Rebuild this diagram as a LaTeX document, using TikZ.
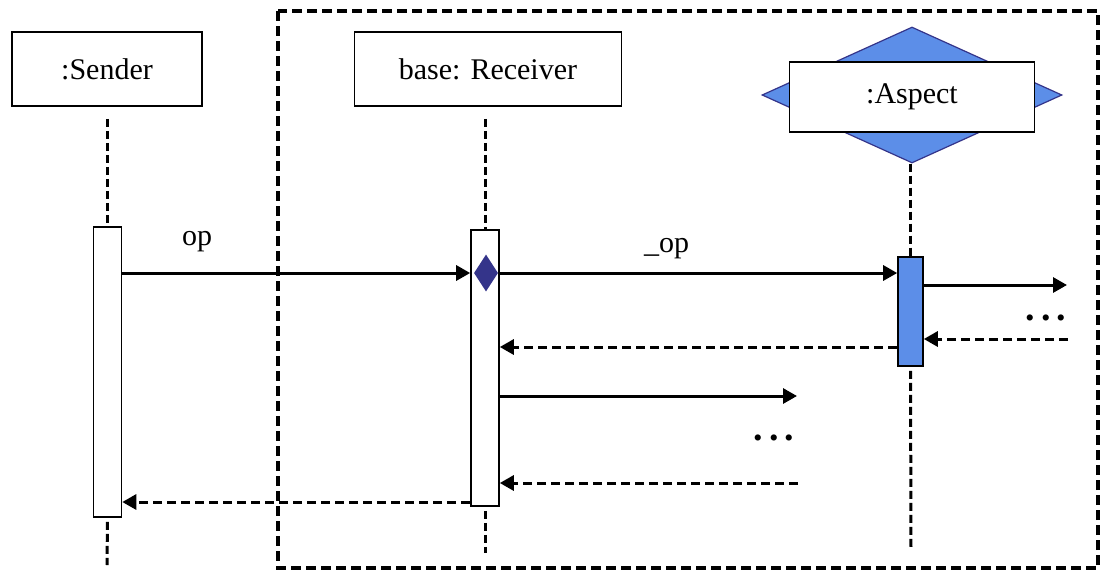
\documentclass[tikz,border=0pt]{standalone}
\usepackage{fontspec}
\setmainfont{Liberation Serif}
\usepackage{xcolor}
\usetikzlibrary{shapes.geometric, arrows.meta, positioning, calc}
\definecolor{aspectblue}{RGB}{92,142,232}
\definecolor{joinnavy}{RGB}{52,52,138}

\begin{document}
\begin{tikzpicture}[
    x=1pt, y=-1pt,
    font=\fontsize{30}{36}\selectfont,
    >={Triangle[length=14pt,width=15pt]},
    obj/.style={rectangle, draw, line width=1.6pt, fill=white, minimum width=#1, minimum height=74pt, inner sep=0pt},
    bar/.style={rectangle, draw, line width=1.6pt, fill=#1, minimum width=28pt, inner sep=0pt},
    life/.style={line width=3pt, dash pattern=on 8pt off 4pt},
    msg/.style={->, line width=3pt},
    ret/.style={->, line width=3pt, dash pattern=on 9pt off 5pt},
    dots/.style={font=\fontsize{38}{38}\selectfont\bfseries, inner sep=0pt},
]
    \useasboundingbox (0,0) rectangle (1101,574);

    % Frame round the woven part
    \draw[line width=3.5pt, dash pattern=on 10pt off 5pt] (278,11) rectangle (1098,568);

    % Objects
    \node[obj=190pt] (sender) at (107,69) {:Sender};
    \node[obj=267pt] (receiver) at (488,69) {base: Receiver};
    \node[diamond, draw=joinnavy, line width=1.2pt, fill=aspectblue, minimum width=300pt, minimum height=136pt, inner sep=0pt] (aspectdia) at (912,95) {};
    \node[obj=245pt, minimum height=70pt] (aspect) at (912,97) {:Aspect};

    % Activations
    \node[bar=white, minimum height=290pt] (sbar) at (107.5,372) {};
    \node[bar=white, minimum height=276pt] (rbar) at (485,368) {};
    \node[bar=aspectblue, minimum width=25pt, minimum height=109pt] (abar) at (910.5,311.5) {};

    % Lifelines
    \coordinate (send) at (107,565);
    \coordinate (rend) at (485,553);
    \coordinate (aend) at (911,550);
    \draw[life, shorten <=12pt] (sender.south -| sbar.north) -- (sbar.north);
    \draw[life, shorten <=12pt] (receiver.south -| rbar.north) -- (rbar.north);
    \draw[life] (aspectdia.south -| abar.north) -- (abar.north);
    \draw[life, shorten <=4pt] (sbar.south) -- (send);
    \draw[life, shorten <=4pt] (rbar.south) -- (rend);
    \draw[life, shorten <=4pt] (abar.south) -- (aend);

    % Messages
    \coordinate (call) at (486,273);
    \draw[msg] (sbar.east |- call) -- node[pos=0.215, above=18pt, inner sep=2pt] {op} (rbar.west |- call);
    \draw[msg] (rbar.east |- call) -- node[pos=0.42, above=11pt, inner sep=2pt] {\_op} (abar.west |- call);
    \node[diamond, fill=joinnavy, minimum width=24pt, minimum height=37pt, inner sep=0pt] (rdot) at (call) {};

    \coordinate (aout) at (1067,285);
    \coordinate (ain) at (1068,339);
    \draw[msg] (abar.east |- aout) -- (aout);
    \node[dots] (adots) at (1046,318) {.\hspace{6pt}.\hspace{6pt}.};
    \draw[ret] (ain) -- (abar.east |- ain);
    \draw[ret] (abar.west |- 0,347) -- (rbar.east |- 0,347);

    \coordinate (rout) at (797,396);
    \coordinate (rin) at (798,483);
    \draw[msg] (rbar.east |- rout) -- (rout);
    \node[dots] (rdots) at (774,438) {.\hspace{6pt}.\hspace{6pt}.};
    \draw[ret] (rin) -- (rbar.east |- rin);
    \draw[ret] (rbar.west |- 0,502) -- (sbar.east |- 0,502);
\end{tikzpicture}
\end{document}
